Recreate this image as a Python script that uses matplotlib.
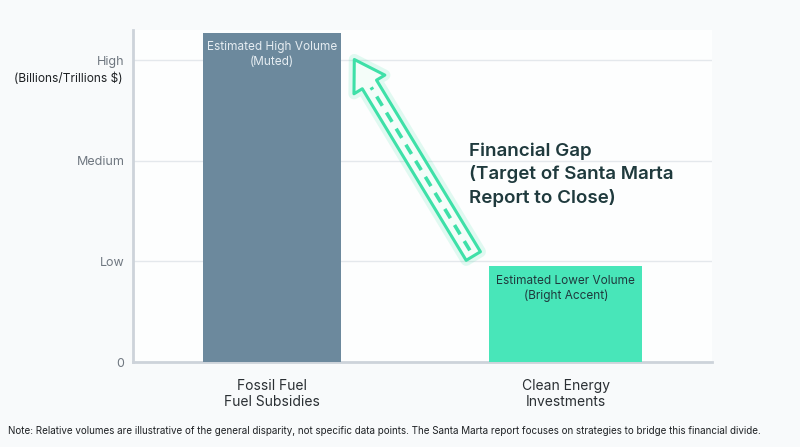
import matplotlib
matplotlib.use("Agg")
import matplotlib.pyplot as plt
from matplotlib.patches import FancyArrowPatch

plt.rcParams['font.family'] = ['Inter', 'DejaVu Sans']

categories = ["Fossil Fuel\nFuel Subsidies", "Clean Energy\nInvestments"]
values = [3.27, 0.95]
bar_labels = ["Estimated High Volume\n(Muted)", "Estimated Lower Volume\n(Bright Accent)"]
tick_values = [0, 1, 2, 3]
tick_labels = ["0", "Low", "Medium", "High"]
bar_colors = ["#6c899d", "#48e6b9"]
bar_widths = [0.47, 0.52]
label_colors = ["#e6edf2", "#1f3a3d"]

fig = plt.figure(figsize=(8, 4.47), dpi=100)
fig.patch.set_facecolor("#f8fafb")
ax = fig.add_axes([0.166, 0.19, 0.724, 0.743])
ax.set_facecolor("#fdfefe")

x = list(range(len(categories)))
bars = ax.bar(x, values, width=bar_widths, color=bar_colors, zorder=3)

for b, lab, c in zip(bars, bar_labels, label_colors):
    ax.text(b.get_x() + b.get_width() / 2, b.get_height() - 0.08, lab,
            ha="center", va="top", fontsize=8.5, color=c, zorder=4, linespacing=1.35)

ax.set_xlim(-0.473, 1.497)
ax.set_ylim(0, 3.3)
ax.set_xticks(x)
ax.set_xticklabels(categories, fontsize=10, color="#2a2f33", linespacing=1.25)
ax.set_yticks(tick_values)
ax.set_yticklabels(tick_labels, fontsize=9, color="#6f7780")
ax.tick_params(axis="both", length=0)
ax.tick_params(axis="x", pad=12)
ax.tick_params(axis="y", pad=6)
ax.yaxis.grid(True, color="#e4e8ec", linewidth=1, zorder=0)

for s in ["top", "right"]:
    ax.spines[s].set_visible(False)
ax.spines["left"].set_color("#cdd3da")
ax.spines["left"].set_linewidth(2)
ax.spines["bottom"].set_color("#cdd3da")
ax.spines["bottom"].set_linewidth(2)

# subtitle under "High"
ax.text(-0.017, 0.853, "(Billions/Trillions $)", transform=ax.transAxes,
        ha="right", va="center", fontsize=8.6, color="#1e2124")

# arrow
tail = (0.69, 1.03)
head = (0.2755, 3.03)
style = "simple,head_length=21,head_width=26,tail_width=12"
glow = FancyArrowPatch(tail, head, arrowstyle=style,
                       mutation_scale=1, facecolor="none", edgecolor="#3ee0a8",
                       linewidth=8, alpha=0.15, zorder=5)
ax.add_patch(glow)
arrow = FancyArrowPatch(tail, head, arrowstyle=style,
                        mutation_scale=1, facecolor="#f4fdf9", edgecolor="#3ee0a8",
                        linewidth=2.2, zorder=6)
ax.add_patch(arrow)
# dashed centre line
fx = tail[0] + (head[0] - tail[0]) * 0.04
fy = tail[1] + (head[1] - tail[1]) * 0.04
tx = tail[0] + (head[0] - tail[0]) * 0.85
ty = tail[1] + (head[1] - tail[1]) * 0.85
ax.plot([fx, tx], [fy, ty], linestyle=(0, (3, 2.2)), color="#3ee0a8", linewidth=2.6, zorder=7)

ax.text(0.671, 2.18, "Financial Gap\n(Target of Santa Marta\nReport to Close)",
        ha="left", va="top", fontsize=13.5, fontweight="semibold", color="#1f3a3d",
        linespacing=1.38, zorder=8)

fig.text(0.01, 0.035, "Note: Relative volumes are illustrative of the general disparity, not specific data points. "
         "The Santa Marta report focuses on strategies to bridge this financial divide.",
         ha="left", va="center", fontsize=7.1, color="#1e2124")

fig.savefig("out.png", dpi=100, facecolor=fig.get_facecolor())
